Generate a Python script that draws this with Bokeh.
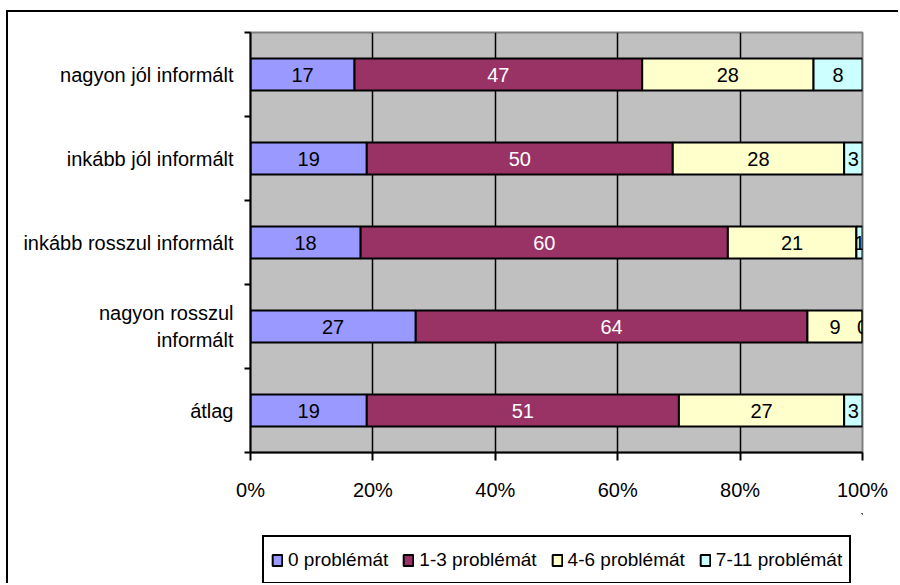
from bokeh.plotting import figure
from bokeh.layouts import column
from bokeh.models import ColumnDataSource, FixedTicker, Range1d, Legend, LegendItem
from bokeh.embed import file_html
from bokeh.resources import INLINE
from bokeh.core.properties import value

categories = ["nagyon jól informált", "inkább jól informált", "inkább rosszul informált",
              "nagyon rosszul\ninformált", "átlag"]
series_names = ["0 problémát", "1-3 problémát", "4-6 problémát", "7-11 problémát"]
s0 = [17, 19, 18, 27, 19]
s1 = [47, 50, 60, 64, 51]
s2 = [28, 28, 21, 9, 27]
s3 = [8, 3, 1, 0, 3]
x_ticks = [0, 20, 40, 60, 80, 100]
x_tick_labels = ["0%", "20%", "40%", "60%", "80%", "100%"]
colors = ["#9999FF", "#993366", "#FFFFCC", "#CCFFFF"]
label_colors = ["black", "white", "black", "black"]

FONT = "Liberation Sans"
FS = "20px"

n = len(categories)
ypos = [n - 0.5 - i for i in range(n)]

p = figure(width=892, height=503, x_range=Range1d(0, 100), y_range=Range1d(0, n),
           output_backend="svg", toolbar_location=None,
           min_border_left=242, min_border_right=38, min_border_top=20, min_border_bottom=63,
           background_fill_color="#C0C0C0", border_fill_color="white")
p.styles = {"margin-left": "6px", "margin-top": "10px",
            "border-left": "2px solid black", "border-top": "2px solid black"}
p.outline_line_color = "#808080"
p.outline_line_width = 2

series = [s0, s1, s2, s3]
left = [0.0] * n
for k, s in enumerate(series):
    right = [l + v for l, v in zip(left, s)]
    centers = [(l + r) / 2 for l, r in zip(left, right)]
    src = ColumnDataSource(dict(y=ypos, left=left, right=right, cx=centers,
                                lab=[str(v) for v in s]))
    p.hbar(y="y", left="left", right="right", height=0.38, source=src,
           fill_color=colors[k], line_color="black", line_width=2)
    p.text(x="cx", y="y", text="lab", source=src, text_align="center", text_baseline="middle",
           text_font=value(FONT), text_font_size=FS, text_color=label_colors[k])
    left = right

# x axis
xa = p.xaxis[0]
xa.ticker = FixedTicker(ticks=x_ticks)
xa.major_label_overrides = {t: l for t, l in zip(x_ticks, x_tick_labels)}
xa.major_label_text_font = FONT
xa.major_label_text_font_size = FS
xa.major_label_text_color = "black"
xa.major_label_standoff = 18
xa.axis_line_color = "black"
xa.axis_line_width = 2
xa.major_tick_line_color = "black"
xa.major_tick_line_width = 2
xa.major_tick_out = 8
xa.major_tick_in = 0
xa.minor_tick_line_color = None

# y axis
ya = p.yaxis[0]
ya.ticker = FixedTicker(ticks=ypos, minor_ticks=list(range(n + 1)))
ya.major_label_overrides = {t: c for t, c in zip(ypos, categories)}
ya.major_label_text_font = FONT
ya.major_label_text_font_size = FS
ya.major_label_text_color = "black"
ya.major_label_standoff = 11
ya.axis_line_color = "black"
ya.axis_line_width = 2
ya.major_tick_line_color = None
ya.minor_tick_line_color = "black"
ya.minor_tick_line_width = 2
ya.minor_tick_out = 6
ya.minor_tick_in = 0

p.xgrid.ticker = FixedTicker(ticks=[20, 40, 60, 80])
p.xgrid.grid_line_color = "black"
p.xgrid.grid_line_width = 1.5
p.ygrid.grid_line_color = None

# legend strip below the chart (its frame lines up with the chart's frame)
leg = figure(width=892, height=70, x_range=Range1d(0, 1), y_range=Range1d(0, 1),
             output_backend="svg", toolbar_location=None,
             x_axis_location=None, y_axis_location=None,
             min_border_left=0, min_border_right=0, min_border_top=0, min_border_bottom=0,
             background_fill_color="white", border_fill_color="white")
leg.styles = {"margin-left": "6px", "border-left": "2px solid black"}
leg.outline_line_color = None
leg.xgrid.grid_line_color = None
leg.ygrid.grid_line_color = None
items = []
for k, name in enumerate(series_names):
    # off-screen proxy bar so that the legend has a glyph to draw
    proxy = leg.hbar(y=[50], left=[50], right=[51], height=0.5,
                     fill_color=colors[k], line_color="black", line_width=2)
    items.append(LegendItem(label=name, renderers=[proxy]))

legend = Legend(items=items, orientation="horizontal", location=(12, -1),
                label_text_font=FONT, label_text_font_size="19px", label_text_color="black",
                glyph_width=12, glyph_height=14, label_standoff=5, spacing=14,
                padding=7, margin=0, border_line_color="black", border_line_width=2,
                border_line_alpha=1.0, label_height=31)
leg.add_layout(legend)

layout = column(p, leg, spacing=0)
open("out.html", "w").write(file_html(layout, INLINE))
